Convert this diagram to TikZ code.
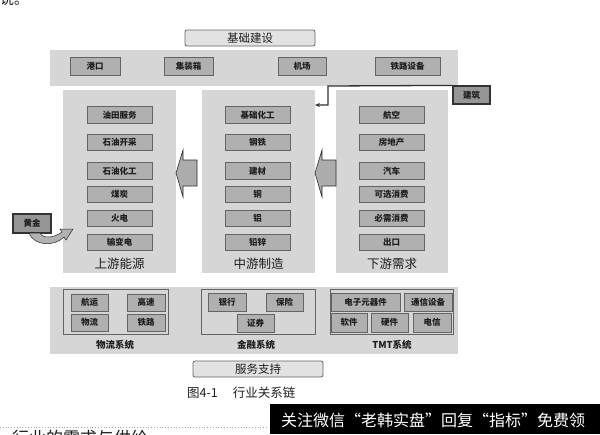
\documentclass[tikz,border=0pt]{standalone}
\usepackage{fontspec}
\newfontfamily\cjk{Noto Sans CJK SC}
\usetikzlibrary{arrows.meta}
\definecolor{bandgray}{RGB}{214,214,214}
\definecolor{boxfill}{RGB}{176,176,176}
\definecolor{boxborder}{RGB}{100,100,100}
\definecolor{darkfill}{RGB}{150,150,150}
\definecolor{darkborder}{RGB}{50,50,50}
\definecolor{titlefill}{RGB}{226,226,226}
\definecolor{txt}{RGB}{30,30,30}
\tikzset{
  band/.style={fill=bandgray, draw=none, inner sep=0pt},
  panel/.style={fill=bandgray, draw=boxborder, line width=0.7pt, inner sep=0pt},
  ibox/.style={fill=boxfill, draw=boxborder, line width=0.8pt, inner sep=0pt,
    text=txt, font=\cjk\bfseries\fontsize{8.5}{9}\selectfont},
  dbox/.style={fill=darkfill, draw=darkborder, line width=1.2pt, inner sep=0pt,
    text=txt, font=\cjk\bfseries\fontsize{8.5}{9}\selectfont},
  tbox/.style={fill=titlefill, draw=boxborder, line width=0.8pt, rounded corners=2pt,
    inner sep=0pt, text=txt, font=\cjk\fontsize{11.5}{12}\selectfont},
  collabel/.style={text=txt, font=\cjk\fontsize{12.5}{13}\selectfont},
  syslabel/.style={text=txt, font=\cjk\bfseries\fontsize{9.5}{10}\selectfont},
  blockarrow/.style={fill=gray!65, draw=gray!35!black, line width=0.6pt},
}
\begin{document}
\begin{tikzpicture}[x=1pt,y=-1pt]
\useasboundingbox (0,0) rectangle (600,434);
\clip (0,0) rectangle (600,434);
\fill[white] (0,0) rectangle (600,434);

% page fragment at top
\node[anchor=south west, inner sep=0pt, text=txt, font=\cjk\fontsize{14}{14}\selectfont] (frag1) at (0,6) {说。};

% top
\node[tbox, minimum width=130pt, minimum height=16pt] (jichu) at (250,38) {基础建设};
\node[band, minimum width=408pt, minimum height=36pt] (topband) at (254,68) {};
\node[ibox, minimum width=50pt, minimum height=18pt] (gangkou) at (95,66) {港口};
\node[ibox, minimum width=49pt, minimum height=18pt] (jizhuang) at (188.5,66) {集装箱};
\node[ibox, minimum width=48pt, minimum height=18pt] (jichang) at (302,66) {机场};
\node[ibox, minimum width=65pt, minimum height=18pt] (tielushebei) at (407.5,66) {铁路设备};

% column panels
\fill[bandgray] (63,90) rectangle (176,273);
\fill[bandgray] (202,90) rectangle (315,273);
\fill[bandgray] (336,90) rectangle (448,273);

\foreach \t [count=\i] in {油田服务,石油开采,石油化工,煤炭,火电,输变电}{
  \pgfmathsetmacro{\yy}{{0,115,142.5,171,194.5,218.5,242.5}[\i]}
  \node[ibox, minimum width=65pt, minimum height=16.5pt] (L\i) at (119.5,\yy) {\t};
}
\foreach \t [count=\i] in {基础化工,钢铁,建材,铜,铝,铅锌}{
  \pgfmathsetmacro{\yy}{{0,115,142.5,171,194.5,218.5,242.5}[\i]}
  \node[ibox, minimum width=65pt, minimum height=16.5pt] (M\i) at (257.5,\yy) {\t};
}
\foreach \t [count=\i] in {航空,房地产,汽车,可选消费,必需消费,出口}{
  \pgfmathsetmacro{\yy}{{0,115,142.5,171,194.5,218.5,242.5}[\i]}
  \node[ibox, minimum width=65pt, minimum height=16.5pt] (R\i) at (391.5,\yy) {\t};
}
\node[collabel] (up) at (119.5,264) {上游能源};
\node[collabel] (mid) at (258.5,264) {中游制造};
\node[collabel] (down) at (392,264) {下游需求};

% block arrows
\filldraw[blockarrow] (176,173) -- (183,150) -- (183,160) -- (197,160) -- (197,186) -- (183,186) -- (183,197) -- cycle;
\filldraw[blockarrow] (315,173) -- (322,150) -- (322,160) -- (336,160) -- (336,186) -- (322,186) -- (322,197) -- cycle;

% jianzhu
\node[dbox, minimum width=37pt, minimum height=18pt] (jianzhu) at (471.5,95) {建筑};
\coordinate (jzA) at (328,86);
\coordinate (jzB) at (328,105);
\coordinate (jzC) at (315,105);
\draw[darkborder, line width=1.3pt, -{Stealth[length=5pt,width=4pt]}] (jianzhu.north west) -- (jzA) -- (jzB) -- (jzC);

% huangjin
\node[dbox, minimum width=38pt, minimum height=19pt] (huangjin) at (32,223.5) {黄金};
\filldraw[fill=gray!60, draw=gray!30!black, line width=0.5pt]
  (29,233) .. controls (34,246) and (54,247) .. (64,237)
  -- (66,240) -- (73,229) -- (60,229) -- (62,232)
  .. controls (54,238) and (43,239) .. (40,233) -- cycle;

% bottom band
\node[band, minimum width=408pt, minimum height=67pt] (botband) at (254,320.5) {};
\draw[panel] (63,289) rectangle (168,334);
\draw[panel] (201,289) rectangle (315,334);
\draw[panel] (330,289) rectangle (453,334);
\node[ibox, minimum width=37pt, minimum height=17pt] (hangyun) at (89.5,302.5) {航运};
\node[ibox, minimum width=38pt, minimum height=17pt] (gaosu) at (146,302.5) {高速};
\node[ibox, minimum width=37pt, minimum height=17pt] (wuliu) at (89.5,322.5) {物流};
\node[ibox, minimum width=38pt, minimum height=17pt] (tielu) at (146,322.5) {铁路};
\node[ibox, minimum width=38pt, minimum height=18pt] (yinhang) at (227,302) {银行};
\node[ibox, minimum width=37pt, minimum height=18pt] (baoxian) at (284.5,302) {保险};
\node[ibox, minimum width=37pt, minimum height=18pt] (zhengquan) at (255.5,323) {证券};
\node[ibox, minimum width=69pt, minimum height=18pt] (dianzi) at (365.5,302) {电子元器件};
\node[ibox, minimum width=48pt, minimum height=18pt] (tongxin) at (428,302) {通信设备};
\node[ibox, minimum width=36pt, minimum height=19pt] (ruanjian) at (349,322.5) {软件};
\node[ibox, minimum width=37pt, minimum height=19pt] (yingjian) at (389.5,322.5) {硬件};
\node[ibox, minimum width=38pt, minimum height=19pt] (dianxin) at (432,322.5) {电信};
\node[syslabel] (wlxt) at (115,344.5) {物流系统};
\node[syslabel] (jrxt) at (256,345) {金融系统};
\node[syslabel] (tmtxt) at (392,345) {TMT系统};

\node[tbox, minimum width=130pt, minimum height=16pt] (fuwu) at (258,369) {服务支持};
\node[anchor=west, inner sep=0pt, text=txt, font=\cjk\fontsize{12.5}{13}\selectfont] (caption) at (187,393) {图4-1\hspace{1.2em}行业关系链};

% footer
\draw[gray!70, dotted, line width=0.8pt] (0,427) -- (268,427);
\node[anchor=north west, inner sep=0pt, text=txt, font=\cjk\fontsize{17}{17}\selectfont] (frag2) at (12,430) {行业的需求与供给};
\fill[black] (270,404) rectangle (600,434);
\node[text=white, inner sep=0pt, font=\cjk\fontsize{16}{16}\selectfont] (wm) at (433,420) {关注微信“老韩实盘”回复“指标”免费领};
\end{tikzpicture}
\end{document}
